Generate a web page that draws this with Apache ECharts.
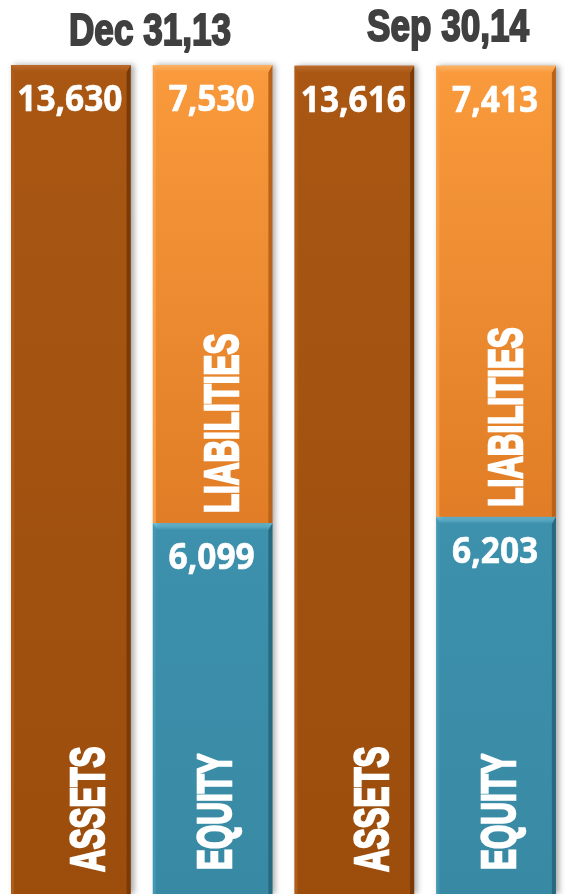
<!DOCTYPE html>
<html>
<head>
<meta charset="utf-8">
<script src="https://cdn.jsdelivr.net/npm/echarts@6/dist/echarts.min.js"></script>
<style>
html,body{margin:0;padding:0;background:#fff;}
#c{width:567px;height:894px;}
</style>
</head>
<body>
<div id="c"></div>
<script>
// ---- data ----
const periods = ['Dec 31,13', 'Sep 30,14'];
const columns = ['Dec 31,13 Assets', 'Dec 31,13 Liabilities & Equity', 'Sep 30,14 Assets', 'Sep 30,14 Liabilities & Equity'];
const assets = [13630, 13616];
const liabilities = [7530, 7413];
const equity = [6099, 6203];
const segmentNames = ['ASSETS', 'EQUITY', 'LIABILITIES'];

// ---- build stacked segments: [column, base, value] ----
const assetData = assets.map((v, i) => [i * 2, 0, v]);
const equityData = equity.map((v, i) => [i * 2 + 1, 0, v]);
const liabData = liabilities.map((v, i) => [i * 2 + 1, equity[i], v]);

const styles = {
  ASSETS: { top: '#A95713', bottom: '#9C4D0C', bevel: '#BC6B2E', left: '#AE5C18', right: '#7A3A06', nameDx: 20, nameDy: 22 },
  EQUITY: { top: '#3D91AC', bottom: '#3889A4', bevel: '#79CDE6', left: '#4297B2', right: '#276A80', nameDx: 5, nameDy: 24 },
  LIABILITIES: { top: '#F99A3C', bottom: '#E07D26', bevel: '#FCB264', left: '#F99F45', right: '#B9621A', nameDx: 12, nameDy: 10 }
};

function fmt(v) { return v.toLocaleString('en-US'); }

function makeRender(name) {
  const s = styles[name];
  return function (params, api) {
    const x = api.value(0), base = api.value(1), val = api.value(2);
    const pTop = api.coord([x, base + val]);
    const pBot = api.coord([x, base]);
    const band = api.size([1, 0])[0];
    const w = band * 0.843;
    const l = pTop[0] - w / 2, r = pTop[0] + w / 2;
    const t = pTop[1], b = pBot[1];
    const bv = 7;
    return {
      type: 'group',
      children: [
        { type: 'rect', shape: { x: l, y: t, width: w, height: b - t },
          style: { fill: new echarts.graphic.LinearGradient(0, 0, 0, 1, [{ offset: 0, color: s.top }, { offset: 1, color: s.bottom }]),
                   shadowColor: 'rgba(0,0,0,0.35)', shadowBlur: 6, shadowOffsetX: 3, shadowOffsetY: 0 } },
        { type: 'polygon', shape: { points: [[l, t], [l + 3, t + bv], [l + 3, b], [l, b]] }, style: { fill: s.left } },
        { type: 'polygon', shape: { points: [[r, t], [r, b], [r - 4, b], [r - 4, t + bv]] }, style: { fill: s.right } },
        { type: 'polygon', shape: { points: [[l, t], [r, t], [r - 4, t + bv], [l + 3, t + bv]] },
          style: { fill: new echarts.graphic.LinearGradient(0, 0, 0, 1, [{ offset: 0, color: s.bevel }, { offset: 1, color: s.top }]) } },
        { type: 'text', x: pTop[0] - 1, y: t + 36, scaleX: 0.93,
          style: { text: fmt(val), fill: '#fff', stroke: '#fff', lineWidth: 0.6, font: 'bold 36px "Open Sans", "Noto Sans", sans-serif', align: 'center', verticalAlign: 'middle' } },
        { type: 'text', x: pTop[0] + s.nameDx, y: b - s.nameDy, rotation: Math.PI / 2, scaleX: 0.64,
          style: { text: name, fill: '#fff', stroke: '#fff', lineWidth: 2.5, font: 'bold 49px "Liberation Sans", Arial, sans-serif', align: 'left', verticalAlign: 'middle' } }
      ]
    };
  };
}

const chart = echarts.init(document.getElementById('c'), null, { renderer: 'canvas' });
chart.setOption({
  animation: false,
  grid: { left: -2, right: -5, top: 65, height: 832, containLabel: false },
  xAxis: { type: 'category', data: columns, show: false },
  yAxis: { type: 'value', min: 0, max: 13630, show: false },
  graphic: [
    { type: 'text', x: 150, y: 33, scaleX: 0.78,
      style: { text: periods[0], fill: '#404040', stroke: '#404040', lineWidth: 2, font: 'bold 45px "Liberation Sans", Arial, sans-serif', align: 'center', verticalAlign: 'middle' } },
    { type: 'text', x: 448, y: 29, scaleX: 0.78,
      style: { text: periods[1], fill: '#404040', stroke: '#404040', lineWidth: 2, font: 'bold 45px "Liberation Sans", Arial, sans-serif', align: 'center', verticalAlign: 'middle' } }
  ],
  series: [
    { type: 'custom', name: 'Assets', data: assetData, renderItem: makeRender('ASSETS'), clip: false },
    { type: 'custom', name: 'Equity', data: equityData, renderItem: makeRender('EQUITY'), clip: false },
    { type: 'custom', name: 'Liabilities', data: liabData, renderItem: makeRender('LIABILITIES'), clip: false }
  ]
});
</script>
</body>
</html>
